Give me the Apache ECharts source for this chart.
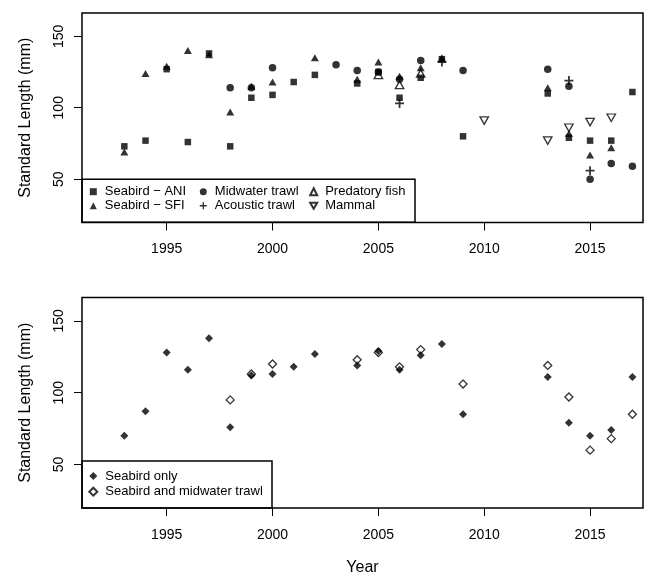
<!DOCTYPE html>
<html>
<head>
<meta charset="utf-8">
<title>Standard length by year</title>
<script src="https://cdn.jsdelivr.net/npm/echarts@6.0.0/dist/echarts.min.js"></script>
<style>
  html, body { margin: 0; padding: 0; background: #fff; }
  #chart { width: 649px; height: 577px; }
</style>
</head>
<body>
<div id="chart"></div>
<script>
// top panel, one pair of arrays per source
var aniYears = [1993, 1994, 1995, 1996, 1997, 1998, 1999, 2000, 2001, 2002, 2004, 2005, 2006, 2007, 2008, 2009, 2013, 2014, 2015, 2016, 2017];
var aniLen   = [73, 77, 127, 76, 138, 73, 107, 109, 118, 123, 117, 125, 107, 121, 134, 80, 110, 79, 77, 77, 111];

var sfiYears = [1993, 1994, 1995, 1996, 1997, 1998, 1999, 2000, 2002, 2004, 2005, 2006, 2007, 2008, 2013, 2014, 2015, 2016];
var sfiLen   = [69, 124, 129, 140, 137, 97, 115, 118, 135, 120, 132, 122, 128, 135, 114, 82, 67, 72];

var midYears = [1998, 1999, 2000, 2003, 2004, 2005, 2006, 2007, 2009, 2013, 2014, 2015, 2016, 2017];
var midLen   = [114, 114, 128, 130, 126, 125, 120, 133, 126, 127, 115, 50, 61, 59];

var acoYears = [2006, 2008, 2014, 2015];
var acoLen   = [103, 132, 119, 56];

var fishYears = [2005, 2006, 2007];
var fishLen   = [123, 116, 124];

var mamYears = [2010, 2013, 2014, 2015, 2016];
var mamLen   = [91, 77, 86, 90, 93];

// bottom panel
var onlyYears = [1993, 1994, 1995, 1996, 1997, 1998, 1999, 2000, 2001, 2002, 2004, 2005, 2006, 2007, 2008, 2009, 2013, 2014, 2015, 2016, 2017];
var onlyLen   = [70, 87, 128, 116, 138, 76, 112, 113, 118, 127, 119, 129, 116, 126, 134, 85, 111, 79, 70, 74, 111];

var bothYears = [1998, 1999, 2000, 2004, 2005, 2006, 2007, 2009, 2013, 2014, 2015, 2016, 2017];
var bothLen   = [95, 113, 120, 123, 128, 118, 130, 106, 119, 97, 60, 68, 85];

var xTicks = [1995, 2000, 2005, 2010, 2015];
var yTicks = [50, 100, 150];

var font = '"Liberation Sans", Arial, Helvetica, sans-serif';
var plus = 'path://M4,0H6V4H10V6H6V10H4V6H0V4H4Z';
var downTri = 'path://M0,0L10,0L5,8.7Z';

function pairs(xs, ys) {
  return xs.map(function (x, i) { return [x, ys[i]]; });
}

function plain(v) { return String(v); }

function makeX(idx, name) {
  return {
    type: 'value', gridIndex: idx, min: 1991, max: 2017.5,
    axisLine: { show: false, onZero: false },
    splitLine: { show: false },
    axisTick: { show: true, length: 8, customValues: xTicks, lineStyle: { color: '#000', width: 1 } },
    axisLabel: { customValues: xTicks, formatter: plain, margin: 20, fontSize: 14, color: '#000', fontFamily: font },
    name: name, nameLocation: 'middle', nameGap: 52,
    nameTextStyle: { fontSize: 16, color: '#000', fontFamily: font }
  };
}

function makeY(idx) {
  return {
    type: 'value', gridIndex: idx, min: 19.7, max: 166.3,
    axisLine: { show: false, onZero: false },
    splitLine: { show: false },
    axisTick: { show: true, length: 8, customValues: yTicks, lineStyle: { color: '#000', width: 1 } },
    axisLabel: { customValues: yTicks, formatter: plain, rotate: 90, margin: 16, fontSize: 14, color: '#000', fontFamily: font },
    name: 'Standard Length (mm)', nameLocation: 'middle', nameGap: 48,
    nameTextStyle: { fontSize: 16, color: '#000', fontFamily: font }
  };
}

function pts(name, idx, xs, ys, symbol, size, open) {
  return {
    name: name, type: 'scatter', xAxisIndex: idx, yAxisIndex: idx,
    symbol: symbol, symbolSize: size,
    data: pairs(xs, ys),
    itemStyle: open
      ? { color: 'rgba(0,0,0,0)', borderColor: '#000', borderWidth: 1.3 }
      : { color: '#000' },
    emphasis: { disabled: true }
  };
}

function legendCol(names, left, top, gap, w) {
  return {
    data: names, orient: 'vertical', left: left, top: top,
    itemWidth: w, itemHeight: w, itemGap: gap, padding: 0, selectedMode: false,
    textStyle: { fontSize: 13, lineHeight: 14, color: '#000', fontFamily: font, padding: [0, 0, 0, 3] }
  };
}

var chart = echarts.init(document.getElementById('chart'), null, { renderer: 'canvas' });

var option = {
  backgroundColor: '#fff',
  animation: false,
  grid: [
    { left: 82, top: 13, right: 6, height: 209.5, show: true, borderColor: '#000', borderWidth: 1.5, outerBoundsMode: 'none' },
    { left: 82, top: 297.5, right: 6, height: 210.5, show: true, borderColor: '#000', borderWidth: 1.5, outerBoundsMode: 'none' }
  ],
  xAxis: [makeX(0, ''), makeX(1, 'Year')],
  yAxis: [makeY(0), makeY(1)],
  legend: [
    legendCol(['Seabird − ANI', 'Seabird − SFI'], 89.8, 184.7, 0, 7),
    legendCol(['Midwater trawl', 'Acoustic trawl'], 199.8, 184.7, 0, 7),
    legendCol(['Predatory fish', 'Mammal'], 309.2, 184.7, 0, 7),
    legendCol(['Seabird only', 'Seabird and midwater trawl'], 88.3, 469, 1.7, 8)
  ],
  graphic: [
    { type: 'rect', z: 1, shape: { x: 82, y: 179.3, width: 333, height: 43 }, style: { fill: 'none', stroke: '#000', lineWidth: 1.5 } },
    { type: 'rect', z: 1, shape: { x: 82, y: 461, width: 190, height: 47 }, style: { fill: 'none', stroke: '#000', lineWidth: 1.5 } }
  ],
  series: [
    pts('Seabird − ANI', 0, aniYears, aniLen, 'rect', 6.5, false),
    pts('Seabird − SFI', 0, sfiYears, sfiLen, 'triangle', [8, 7], false),
    pts('Midwater trawl', 0, midYears, midLen, 'circle', 7.5, false),
    pts('Acoustic trawl', 0, acoYears, acoLen, plus, 9, false),
    pts('Predatory fish', 0, fishYears, fishLen, 'triangle', [8.5, 7.5], true),
    pts('Mammal', 0, mamYears, mamLen, downTri, [8.5, 7.5], true),
    pts('Seabird only', 1, onlyYears, onlyLen, 'diamond', 8, false),
    pts('Seabird and midwater trawl', 1, bothYears, bothLen, 'diamond', 8, true)
  ]
};

chart.setOption(option);
</script>
</body>
</html>
